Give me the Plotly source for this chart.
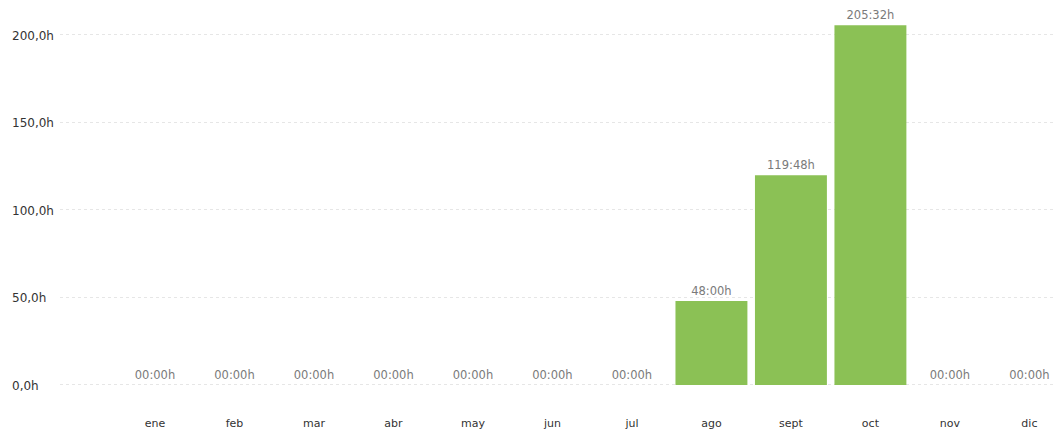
import plotly.graph_objects as go

months = ["ene", "feb", "mar", "abr", "may", "jun", "jul", "ago", "sept", "oct", "nov", "dic"]
hours = [0, 0, 0, 0, 0, 0, 0, 48.0, 119.8, 205.5333, 0, 0]
bar_labels = ["00:00h", "00:00h", "00:00h", "00:00h", "00:00h", "00:00h", "00:00h",
              "48:00h", "119:48h", "205:32h", "00:00h", "00:00h"]
y_ticks = [0, 50, 100, 150, 200]
y_tick_text = ["0,0h", "50,0h", "100,0h", "150,0h", "200,0h"]

fig = go.Figure(go.Bar(
    x=list(range(len(months))),
    y=hours,
    text=bar_labels,
    textposition="outside",
    textfont=dict(color="#7a7a7a", size=11.5, family="DejaVu Sans"),
    marker=dict(color="#8bc155", line=dict(width=0)),
    cliponaxis=False,
))

# y labels left aligned like the original
for v, t in zip(y_ticks, y_tick_text):
    fig.add_annotation(x=0, xref="paper", y=v, yref="y", text=t, showarrow=False,
                       xanchor="left", xshift=-50, yshift=-1,
                       font=dict(size=12, color="#333333", family="DejaVu Sans"))

fig.update_layout(
    width=1054, height=425,
    margin=dict(l=52, r=0, t=0, b=33),
    plot_bgcolor="white", paper_bgcolor="white",
    showlegend=False,
    bargap=0.095,
    xaxis=dict(
        range=[-1.195, 11.41],
        tickmode="array", tickvals=list(range(len(months))), ticktext=months,
        showgrid=False, zeroline=False, showline=False, ticks="",
        tickfont=dict(size=11, color="#333333", family="DejaVu Sans"),
        ticklabelstandoff=15,
    ),
    yaxis=dict(
        range=[-8.6, 215.4],
        tickvals=y_ticks, showticklabels=False,
        showgrid=True, gridcolor="#e6e6e6", griddash="dot", gridwidth=1,
        zeroline=False, showline=False, ticks="",
    ),
)

fig.write_html("out.html")
